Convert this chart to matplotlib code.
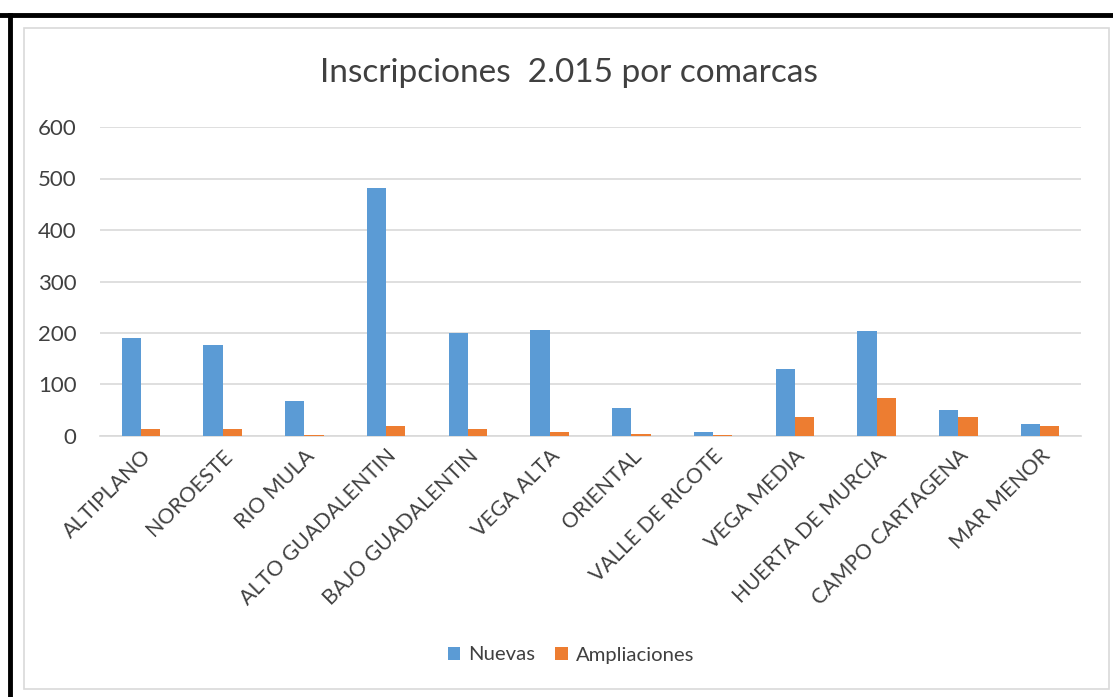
import matplotlib
matplotlib.use('Agg')
import matplotlib.pyplot as plt
from matplotlib.patches import Rectangle
from matplotlib.lines import Line2D
import numpy as np

# data
comarcas = ['ALTIPLANO', 'NOROESTE', 'RIO MULA', 'ALTO GUADALENTIN', 'BAJO GUADALENTIN',
            'VEGA ALTA', 'ORIENTAL', 'VALLE DE RICOTE', 'VEGA MEDIA', 'HUERTA DE MURCIA',
            'CAMPO CARTAGENA', 'MAR MENOR']
nuevas = [191, 176, 67, 481, 200, 206, 54, 7, 131, 204, 51, 23]
ampliaciones = [14, 14, 1, 20, 14, 8, 4, 1, 36, 73, 36, 20]
yticks = [0, 100, 200, 300, 400, 500, 600]

plt.rcParams['font.family'] = ['Lato', 'DejaVu Sans']
text_col = '#404040'
blue = '#5B9BD5'
orange = '#ED7D31'

W, H = 1113, 697
fig = plt.figure(figsize=(W / 100, H / 100), dpi=100)

# outer black frame (top and left only) and inner grey chart border
fig.add_artist(Line2D([0, 1], [1 - 15 / H, 1 - 15 / H], color='black', lw=3.5, transform=fig.transFigure))
fig.add_artist(Line2D([10 / W, 10 / W], [0, 1 - 15 / H], color='black', lw=3.5, transform=fig.transFigure))
fig.add_artist(Rectangle((24 / W, 1 - 689 / H), (1109 - 24) / W, (689 - 28) / H,
                         fill=False, edgecolor='#D9D9D9', lw=1.2, transform=fig.transFigure))

# plot area
left, right, top, bottom = 100, 1081, 127, 436
ax = fig.add_axes([left / W, 1 - bottom / H, (right - left) / W, (bottom - top) / H])

x = np.arange(len(comarcas))
bw = 0.235
ax.bar(x - bw / 2, nuevas, bw, color=blue, label='Nuevas', zorder=3)
ax.bar(x + bw / 2, ampliaciones, bw, color=orange, label='Ampliaciones', zorder=3)

ax.set_xlim(-0.5, len(comarcas) - 0.5)
ax.set_ylim(0, 600)
ax.set_yticks(yticks)
ax.yaxis.grid(True, color='#D9D9D9', lw=1.2, zorder=0)
ax.tick_params(axis='y', length=0, pad=17, labelsize=16, labelcolor=text_col)
ax.tick_params(axis='x', length=0, pad=7, labelsize=15.3, labelcolor=text_col)
ax.set_xticks(x)
ax.set_xticklabels(comarcas, rotation=45, ha='right', rotation_mode='anchor')
for s in ['top', 'right', 'left']:
    ax.spines[s].set_visible(False)
ax.spines['bottom'].set_color('#D9D9D9')
ax.spines['bottom'].set_linewidth(1.2)

fig.text(569 / W, 1 - 73 / H, 'Inscripciones  2.015 por comarcas', ha='center', va='center',
         fontsize=24, color=text_col)

fig.legend(loc='center', bbox_to_anchor=(571 / W, 1 - 655 / H), ncol=2, frameon=False,
           fontsize=14.6, handlelength=0.6, handleheight=0.6, handletextpad=0.4,
           columnspacing=1.0, labelcolor=text_col)

fig.savefig('out.png', dpi=100)
